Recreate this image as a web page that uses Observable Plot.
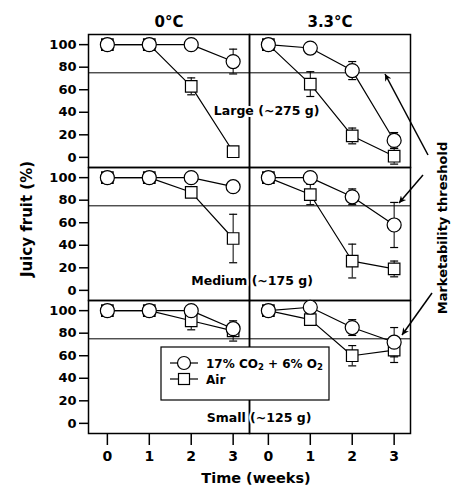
<!DOCTYPE html>
<html><head><meta charset="utf-8">
<script src="https://cdn.jsdelivr.net/npm/d3@7"></script>
<script src="https://cdn.jsdelivr.net/npm/@observablehq/plot@0.6"></script>
<style>body{margin:0;background:#fff} svg{display:block}</style>
</head><body><div id="chart"></div>
<script>
const temps = ["0°C", "3.3°C"];
const sizes = ["Large (~275 g)", "Medium (~175 g)", "Small (~125 g)"];
const weeks = [0, 1, 2, 3];
const yTicks = [0, 20, 40, 60, 80, 100];
const threshold = 75;
const treatments = ["17% CO₂ + 6% O₂", "Air"];
// panel order: Large 0°C, Large 3.3°C, Medium 0°C, Medium 3.3°C, Small 0°C, Small 3.3°C
const caMean  = [[100,100,100,85],[100,97,77,15],[100,100,100,92],[100,100,83,58],[100,100,100,84],[100,103,85,72]];
const caErr   = [[0,0,0,11],[0,0,8,7],[0,0,0,0],[0,0,7,20],[0,0,0,0],[0,0,7,13]];
const airMean = [[100,100,63,5],[100,65,19,1],[100,100,87,46],[100,85,26,19],[100,100,91,82],[100,92,60,65]];
const airErr  = [[0,0,7.5,0],[0,11,7,7],[0,0,0,21.5],[0,9,15,7],[0,0,8,9],[0,0,9,11]];
const sizeLabelX = [2.54, 2.0, 2.37];
const sizeLabelY = [41, 8, 5];

const rows = [];
[caMean, airMean].forEach((means, t) => means.forEach((vals, p) => vals.forEach((v, i) => rows.push({
  treatment: treatments[t], temp: temps[p % 2], size: sizes[Math.floor(p / 2)],
  week: weeks[i], mean: v, err: (t ? airErr : caErr)[p][i]
}))));
const ca = rows.filter(d => d.treatment === treatments[0]);
const air = rows.filter(d => d.treatment === treatments[1]);
const errs = rows.filter(d => d.err > 0);
const cap = {draw(ctx) { ctx.moveTo(-4, 0); ctx.lineTo(4, 0); }};
const F = {fx: "temp", fy: "size"};

const plot = Plot.plot({
  width: 457, height: 489,
  marginLeft: 88, marginRight: 47, marginTop: 33, marginBottom: 55,
  style: {fontFamily: "DejaVu Sans", fontWeight: "bold", fontSize: "13px", background: "white", color: "black"},
  x: {domain: [-0.45, 3.39]},
  y: {domain: [-9, 109]},
  fx: {domain: temps, padding: 0},
  fy: {domain: sizes, padding: 0, axis: null},
  marks: [
    Plot.ruleY([threshold], {strokeWidth: 1}),
    Plot.frame({strokeWidth: 1.5}),
    Plot.axisY({ticks: yTicks, tickSize: 9, tickPadding: 3, label: null, strokeWidth: 1.5}),
    Plot.axisX({ticks: weeks, tickFormat: d3.format("d"), tickSize: 12, tickPadding: 6, label: null, strokeWidth: 1.5, fontSize: 14}),
    Plot.axisFx({anchor: "top", tickSize: 0, tickPadding: 8, label: null, fontSize: 15}),
    Plot.line(air, {x: "week", y: "mean", ...F, stroke: "black", strokeWidth: 1.2}),
    Plot.line(ca, {x: "week", y: "mean", ...F, stroke: "black", strokeWidth: 1.2}),
    Plot.ruleX(errs, {x: "week", y1: d => d.mean - d.err, y2: d => d.mean + d.err, ...F, strokeWidth: 1}),
    Plot.dot(errs, {x: "week", y: d => d.mean + d.err, ...F, symbol: cap, stroke: "black", strokeWidth: 1.2}),
    Plot.dot(errs, {x: "week", y: d => d.mean - d.err, ...F, symbol: cap, stroke: "black", strokeWidth: 1.2}),
    Plot.dot(air, {x: "week", y: "mean", ...F, symbol: "square", r: 6.5, fill: "white", stroke: "black", strokeWidth: 1.2}),
    Plot.dot(ca, {x: "week", y: "mean", ...F, symbol: "circle", r: 7, fill: "white", stroke: "black", strokeWidth: 1.2}),
    Plot.text(sizes, {x: (d, i) => sizeLabelX[i], y: (d, i) => sizeLabelY[i], fx: () => temps[0], fy: d => d,
      text: d => d, textAnchor: "start", fontSize: 12.5, fontWeight: "bold", fill: "black", stroke: "white", strokeWidth: 4})
  ]
});
document.getElementById("chart").appendChild(plot);

const svg = d3.select(plot);
svg.append("defs").append("marker").attr("id", "ah").attr("viewBox", "0 0 10 10")
  .attr("refX", 10).attr("refY", 5).attr("markerWidth", 10).attr("markerHeight", 7)
  .attr("markerUnits", "userSpaceOnUse").attr("orient", "auto")
  .append("path").attr("d", "M0,0L10,5L0,10L3,5Z").attr("fill", "black");

const ann = svg.append("g").attr("font-family", "DejaVu Sans").attr("font-weight", "bold").attr("fill", "black");
ann.append("text").attr("transform", "translate(27,219) rotate(-90)").attr("text-anchor", "middle")
  .attr("dominant-baseline", "middle").attr("font-size", 15).text("Juicy fruit (%)");
ann.append("text").attr("x", 256).attr("y", 479).attr("text-anchor", "middle")
  .attr("dominant-baseline", "middle").attr("font-size", 14.5).text("Time (weeks)");
ann.append("text").attr("transform", "translate(443,228) rotate(-90)").attr("text-anchor", "middle")
  .attr("dominant-baseline", "middle").attr("font-size", 13).text("Marketability threshold");
const arrows = [[428, 155, 385, 74], [423, 175, 399, 203], [432, 293, 402, 335]];
arrows.forEach(([x1, y1, x2, y2]) => ann.append("line").attr("x1", x1).attr("y1", y1).attr("x2", x2).attr("y2", y2)
  .attr("stroke", "black").attr("stroke-width", 1.5).attr("marker-end", "url(#ah)"));

// legend
const lg = svg.append("g").attr("font-family", "DejaVu Sans").attr("font-weight", "bold").attr("font-size", 12)
  .attr("text-anchor", "start").attr("fill", "black");
lg.append("rect").attr("x", 161).attr("y", 347).attr("width", 168).attr("height", 53)
  .attr("fill", "white").attr("stroke", "black").attr("stroke-width", 1.2);
[[363, "circle"], [379, "square"]].forEach(([y, s]) => {
  lg.append("line").attr("x1", 170).attr("x2", 198).attr("y1", y).attr("y2", y).attr("stroke", "black").attr("stroke-width", 1.2);
  if (s === "circle") lg.append("circle").attr("cx", 184).attr("cy", y).attr("r", 6.5).attr("fill", "white").attr("stroke", "black").attr("stroke-width", 1.2);
  else lg.append("rect").attr("x", 178.5).attr("y", y - 5.5).attr("width", 11).attr("height", 11).attr("fill", "white").attr("stroke", "black").attr("stroke-width", 1.2);
});
const t1 = lg.append("text").attr("x", 206).attr("y", 367.5).attr("text-anchor", "start");
t1.append("tspan").text("17% CO");
t1.append("tspan").attr("font-size", 8.5).attr("dy", 2.5).text("2");
t1.append("tspan").attr("dy", -2.5).text(" + 6% O");
t1.append("tspan").attr("font-size", 8.5).attr("dy", 2.5).text("2");
lg.append("text").attr("x", 206).attr("y", 383.5).attr("text-anchor", "start").text(treatments[1]);
</script>
</body></html>
